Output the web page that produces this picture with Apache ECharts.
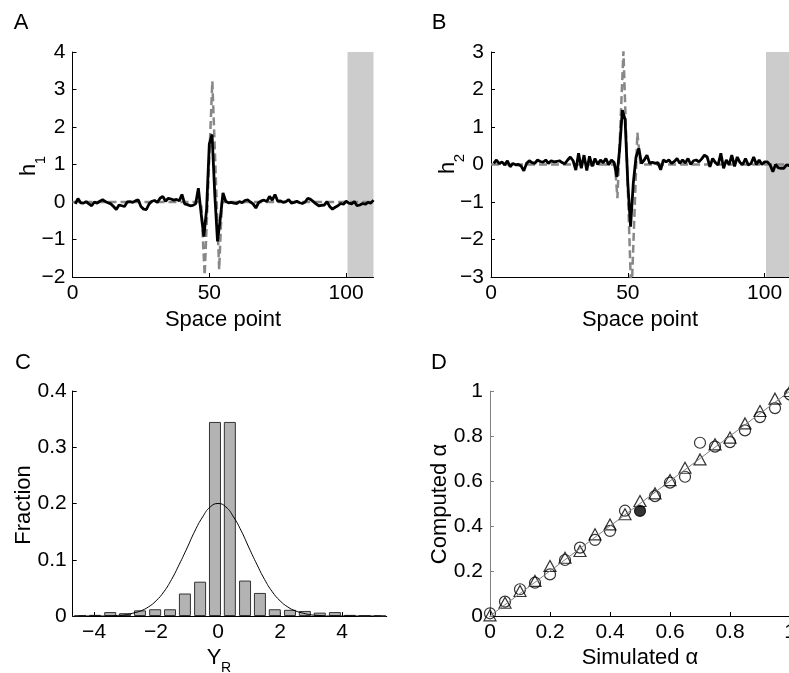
<!DOCTYPE html>
<html>
<head>
<meta charset="utf-8">
<script src="https://cdn.jsdelivr.net/npm/echarts@6/dist/echarts.min.js"></script>
<style>
  html, body { margin: 0; padding: 0; background: #fff; }
  #main { width: 789px; height: 673px; }
</style>
</head>
<body>
<div id="main"></div>
<script>
var chart = echarts.init(document.getElementById('main'));

// A: estimated filter h1 (black) and true filter (dashed), one value per space point 1..110
var h1Est = [-0.05, 0.09, -0.02, -0.03, 0.01, -0.05, -0.10, 0.00, -0.03, 0.02,
  0.06, 0.01, -0.02, -0.05, -0.12, -0.20, -0.08, -0.10, -0.12, 0.00,
  0.01, -0.01, 0.03, 0.06, -0.12, -0.19, -0.20, -0.05, 0.02, 0.04,
  -0.01, 0.10, 0.15, 0.02, 0.10, 0.08, 0.05, 0.07, 0.03, 0.20,
  -0.05, -0.07, -0.10, -0.09, -0.05, 0.37, -0.30, -0.92, -0.20, 1.55,
  1.80, 0.20, -1.05, -0.45, 0.24, 0.02, -0.02, -0.01, -0.03, -0.04,
  0.01, -0.02, 0.04, 0.06, 0.00, -0.05, -0.16, -0.02, 0.03, 0.05,
  0.01, 0.15, 0.05, 0.20, 0.02, 0.03, -0.01, 0.01, 0.06, -0.03,
  -0.01, 0.02, -0.02, -0.04, 0.00, 0.10, 0.07, 0.01, -0.05, -0.10,
  -0.09, -0.08, 0.01, -0.12, -0.19, -0.14, -0.10, -0.04, -0.06, 0.02,
  -0.03, -0.05, 0.01, -0.10, -0.08, -0.04, -0.06, -0.01, -0.03, 0.05];
var h1True = [[0, 0], [47, 0], [48.3, -1.95], [51.1, 3.22], [53.6, -1.8], [54.6, 0], [110, 0]];

// B: estimated filter h2 and true filter
var h2Est = [0.03, 0.12, 0.02, 0.07, -0.01, 0.10, -0.06, 0.03, -0.01, 0.00,
  -0.04, -0.17, 0.03, 0.10, 0.05, 0.03, 0.12, 0.08, 0.06, 0.12,
  0.03, 0.10, 0.07, 0.08, 0.10, 0.05, 0.02, 0.12, 0.20, 0.10,
  -0.15, 0.30, -0.10, 0.25, -0.16, 0.22, -0.05, 0.16, 0.00, 0.12,
  0.05, 0.16, -0.01, 0.12, 0.05, -0.33, 0.40, 1.45, 1.20, -0.50,
  -1.66, -0.50, 0.20, 0.43, 0.03, 0.12, 0.25, 0.03, 0.06, 0.03,
  0.05, -0.14, 0.12, 0.07, 0.12, 0.03, 0.08, 0.16, 0.03, 0.12,
  0.04, 0.16, 0.00, 0.10, 0.12, 0.07, 0.15, 0.25, 0.20, -0.06,
  0.16, 0.05, -0.01, 0.30, -0.10, 0.12, -0.01, 0.25, -0.05, 0.20,
  0.05, 0.00, 0.16, -0.01, 0.02, 0.20, 0.00, 0.12, 0.00, 0.07,
  0.07, -0.01, -0.19, 0.00, -0.09, -0.10, -0.10, -0.01, -0.03, 0.00];
var h2True = [[0, 0], [45.3, 0], [46.2, -0.9], [48.4, 3.02], [51.3, -3.6], [53.5, 0.85], [54.6, 0], [110, 0]];

var shadeRange = [100.5, 110];
var spaceTicks = [0, 50, 100];

// C: histogram of Y_R and fitted curve
var binCenters = [-4.45, -3.97, -3.48, -3.00, -2.52, -2.03, -1.55, -1.07, -0.58, -0.10,
  0.38, 0.87, 1.35, 1.83, 2.32, 2.80, 3.28, 3.77, 4.25, 4.73, 5.22];
var fractions = [0.001, 0.002, 0.007, 0.005, 0.010, 0.012, 0.012, 0.040, 0.061, 0.345,
  0.345, 0.063, 0.041, 0.012, 0.011, 0.009, 0.006, 0.007, 0.002, 0.0006, 0.0005];
var curveX = [-4.5, -4.25, -4, -3.75, -3.5, -3.25, -3, -2.75, -2.5, -2.25, -2, -1.75, -1.5,
  -1.25, -1, -0.75, -0.5, -0.25, 0, 0.25, 0.5, 0.75, 1, 1.25, 1.5, 1.75, 2, 2.25, 2.5,
  2.75, 3, 3.25, 3.5, 3.75, 4, 4.25, 4.5, 4.75, 5, 5.25];
var curveY = [0, 0, 0, 0, 0, 0.001, 0.002, 0.005, 0.009, 0.016, 0.027, 0.043, 0.065,
  0.092, 0.121, 0.151, 0.176, 0.194, 0.200, 0.194, 0.176, 0.151, 0.121, 0.092, 0.065,
  0.043, 0.027, 0.016, 0.009, 0.005, 0.002, 0.001, 0, 0, 0, 0, 0, 0, 0, 0];
var yrTicks = [-4, -2, 0, 2, 4];

// D: computed vs simulated alpha
var simAlpha = [0, 0.05, 0.1, 0.15, 0.2, 0.25, 0.3, 0.35, 0.4, 0.45, 0.5,
  0.55, 0.6, 0.65, 0.7, 0.75, 0.8, 0.85, 0.9, 0.95, 1.0];
var compCircle = [0.012, 0.064, 0.119, 0.148, 0.185, 0.249, 0.304, 0.338, 0.378, 0.468, 0.467,
  0.533, 0.593, 0.619, 0.770, 0.753, 0.773, 0.825, 0.884, 0.924, 0.985];
var compTriangle = [0.003, 0.059, 0.111, 0.156, 0.222, 0.259, 0.289, 0.363, 0.407, 0.452, 0.511,
  0.545, 0.604, 0.659, 0.696, 0.763, 0.793, 0.856, 0.911, 0.966, 1.0];
var filledIndex = 10;

var FONT = 'Liberation Sans';

function fmt(v) {
  return String(+(+v).toFixed(2)).replace('-', '\u2212');
}

function axis(grid, extra, lineColor) {
  var c = lineColor || '#000';
  var a = {
    type: 'value',
    gridIndex: grid,
    axisLine: { show: true, onZero: false, lineStyle: { color: c, width: 1 } },
    axisTick: { show: true, inside: true, length: 4, lineStyle: { color: c, width: 1 } },
    splitLine: { show: false },
    axisLabel: { color: '#000', fontSize: 21, fontFamily: FONT, margin: 6, formatter: fmt }
  };
  for (var k in extra) {
    if (typeof extra[k] === 'object' && a[k]) {
      for (var j in extra[k]) a[k][j] = extra[k][j];
    } else {
      a[k] = extra[k];
    }
  }
  return a;
}

function txt(t, x, y, size, rot) {
  return {
    type: 'text',
    x: x, y: y,
    rotation: rot ? Math.PI / 2 : 0,
    silent: true,
    style: {
      text: t, fill: '#000',
      font: size + 'px "' + FONT + '"',
      textAlign: 'center', textVerticalAlign: 'middle',
      align: 'center', verticalAlign: 'middle'
    }
  };
}

var option = {
  animation: false,
  backgroundColor: '#fff',
  grid: [
    { left: 72.5, top: 52, width: 301, height: 225, outerBoundsMode: 'none' },
    { left: 491, top: 52, width: 301, height: 225, outerBoundsMode: 'none' },
    { left: 72.7, top: 391, width: 314, height: 225, outerBoundsMode: 'none' },
    { left: 490, top: 391, width: 300, height: 225, outerBoundsMode: 'none' }
  ],
  xAxis: [
    axis(0, { min: 0, max: 110, axisTick: { customValues: spaceTicks }, axisLabel: { customValues: spaceTicks } }),
    axis(1, { min: 0, max: 110, axisTick: { customValues: spaceTicks }, axisLabel: { customValues: spaceTicks } }),
    axis(2, { min: -4.69, max: 5.44, axisTick: { customValues: yrTicks }, axisLabel: { customValues: yrTicks } }),
    axis(3, { min: 0, max: 1, interval: 0.2 })
  ],
  yAxis: [
    axis(0, { min: -2, max: 4, interval: 1, axisLabel: { margin: 7 } }),
    axis(1, { min: -3, max: 3, interval: 1, axisLabel: { margin: 7 } }),
    axis(2, { min: 0, max: 0.4, interval: 0.1, axisLabel: { margin: 6 } }),
    axis(3, { min: 0, max: 1, interval: 0.2, axisLabel: { margin: 7 } }, '#808080')
  ],
  series: [
    {
      type: 'line', xAxisIndex: 0, yAxisIndex: 0, z: 2, silent: true,
      data: h1True, symbol: 'none',
      lineStyle: { color: '#888', width: 2.5, type: [8, 4] },
      markArea: {
        silent: true,
        itemStyle: { color: '#cccccc', opacity: 1 },
        data: [[{ xAxis: shadeRange[0] }, { xAxis: shadeRange[1] }]]
      }
    },
    {
      type: 'line', xAxisIndex: 0, yAxisIndex: 0, z: 3, silent: true,
      data: h1Est.map(function (v, i) { return [i + 1, v]; }),
      symbol: 'none', lineStyle: { color: '#000', width: 2.8 }
    },
    {
      type: 'line', xAxisIndex: 1, yAxisIndex: 1, z: 2, silent: true,
      data: h2True, symbol: 'none',
      lineStyle: { color: '#888', width: 2.5, type: [8, 4] },
      markArea: {
        silent: true,
        itemStyle: { color: '#cccccc', opacity: 1 },
        data: [[{ xAxis: shadeRange[0] }, { xAxis: shadeRange[1] }]]
      }
    },
    {
      type: 'line', xAxisIndex: 1, yAxisIndex: 1, z: 3, silent: true,
      data: h2Est.map(function (v, i) { return [i + 1, v]; }),
      symbol: 'none', lineStyle: { color: '#000', width: 2.8 }
    },
    {
      type: 'bar', xAxisIndex: 2, yAxisIndex: 2, silent: true,
      barWidth: 12,
      data: binCenters.map(function (c, i) { return [c, fractions[i]]; }),
      itemStyle: { color: '#b3b3b3', borderColor: '#333', borderWidth: 1 }
    },
    {
      type: 'line', xAxisIndex: 2, yAxisIndex: 2, z: 4, silent: true,
      data: curveX.map(function (x, i) { return [x, curveY[i]]; }),
      symbol: 'none', smooth: true,
      lineStyle: { color: '#000', width: 1 }
    },
    {
      type: 'line', xAxisIndex: 3, yAxisIndex: 3, silent: true,
      data: [[0, 0], [1, 1]], symbol: 'none',
      lineStyle: { color: '#808080', width: 1 }
    },
    {
      type: 'scatter', xAxisIndex: 3, yAxisIndex: 3, silent: true,
      symbol: 'triangle', symbolSize: [12, 11],
      data: simAlpha.map(function (x, i) { return [x, compTriangle[i]]; }),
      itemStyle: { color: 'rgba(0,0,0,0)', borderColor: '#000', borderWidth: 1.2 }
    },
    {
      type: 'scatter', xAxisIndex: 3, yAxisIndex: 3, silent: true,
      symbol: 'circle', symbolSize: 11,
      data: simAlpha.map(function (x, i) {
        var d = { value: [x, compCircle[i]] };
        if (i === filledIndex) d.itemStyle = { color: '#000' };
        return d;
      }),
      itemStyle: { color: 'rgba(0,0,0,0)', borderColor: '#000', borderWidth: 1.2 }
    }
  ],
  graphic: [
    txt('A', 21, 23, 22),
    txt('B', 439, 23, 22),
    txt('C', 23, 363, 22),
    txt('D', 439, 363, 22),
    txt('Space point', 223, 320, 22),
    txt('Space point', 640, 320, 22),
    txt('h', 29, 170, 22, true),
    txt('1', 41, 160, 15, true),
    txt('h', 448, 168, 22, true),
    txt('2', 460, 158, 15, true),
    txt('Fraction', 24, 505, 22, true),
    txt('Y', 214, 658, 22),
    txt('R', 226, 668, 14),
    txt('Computed \u03b1', 440, 504, 22, true),
    txt('Simulated \u03b1', 640, 658, 22)
  ]
};

chart.setOption(option);
</script>
</body>
</html>
